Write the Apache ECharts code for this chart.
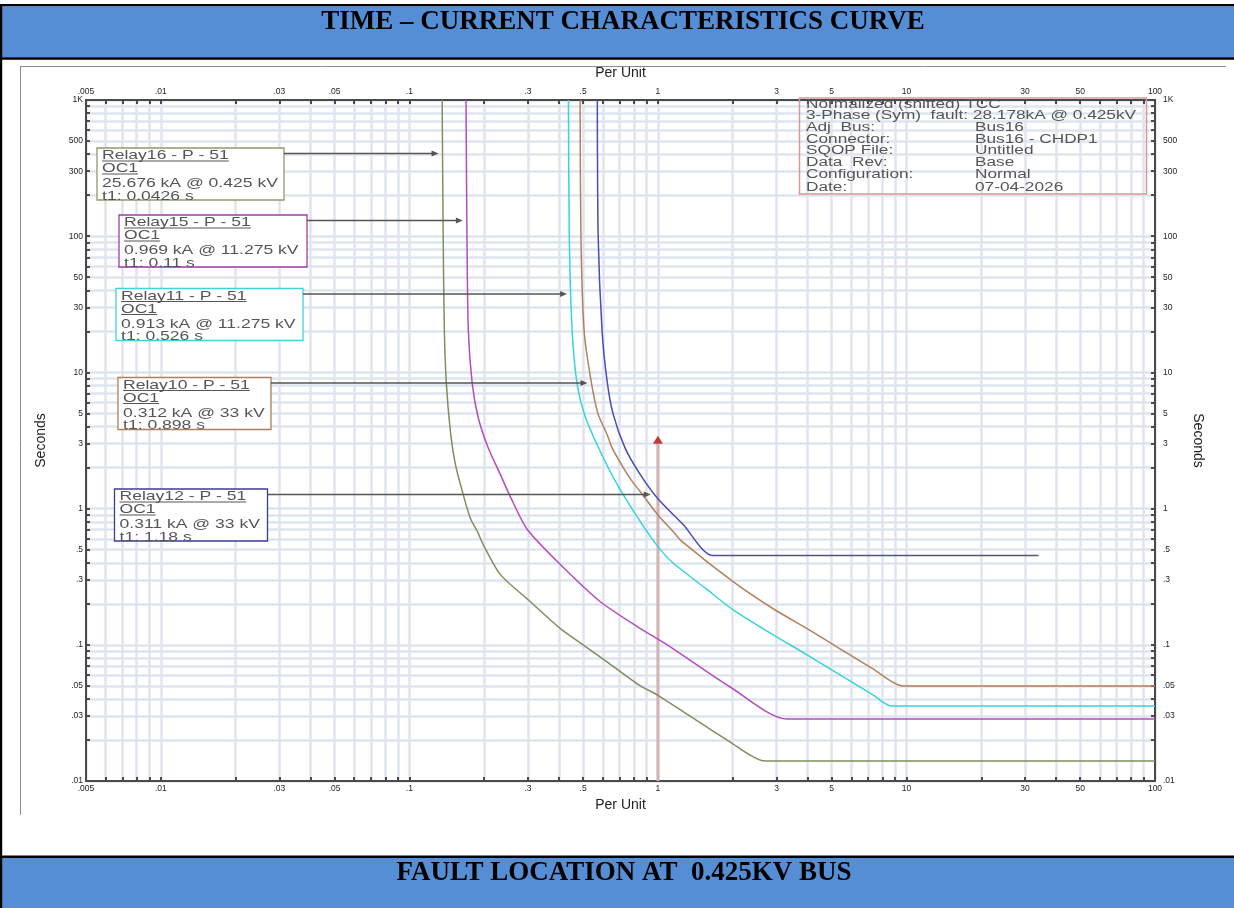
<!DOCTYPE html>
<html>
<head>
<meta charset="utf-8">
<title>Time – Current Characteristics Curve</title>
<script src="https://cdn.jsdelivr.net/npm/echarts@6/dist/echarts.min.js"></script>
<style>
  html, body { margin: 0; padding: 0; background: #ffffff; }
  #chart { width: 1234px; height: 908px; }
</style>
</head>
<body>
<div id="chart"></div>
<script>
// Relay operating curves: [current in per unit, operating time in seconds]
const relay16Curve = [[0.1355,1000],[0.1368,100],[0.1383,20.2],[0.1409,8.24],[0.1462,3.72],[0.1531,2.12],[0.1633,1.34],[0.1759,0.849],[0.1876,0.682],[0.198,0.547],[0.232,0.329],[0.306,0.208],[0.404,0.132],[0.5,0.1],[0.624,0.075],[0.847,0.0501],[1,0.0426],[1.947,0.0194],[2.7,0.014],[100,0.014]];
const relay15Curve = [[0.169,1000],[0.1705,100],[0.1727,20.2],[0.1791,8.24],[0.1894,4.63],[0.2077,2.79],[0.232,1.79],[0.2545,1.23],[0.2978,0.705],[0.404,0.39],[0.585,0.208],[0.847,0.132],[1,0.11],[1.149,0.0938],[1.947,0.0492],[3.31,0.0285],[100,0.0285]];
const relay11Curve = [[0.4365,1000],[0.44,100],[0.4518,20.2],[0.473,8.24],[0.509,4.79],[0.585,2.65],[0.6847,1.512],[0.847,0.808],[1,0.526],[1.149,0.4],[1.574,0.255],[2,0.1816],[2.898,0.1189],[3.968,0.0847],[5.383,0.0603],[7.306,0.043],[8.68,0.0356],[100,0.0356]];
const relay10Curve = [[0.4864,1000],[0.49,100],[0.5047,20.2],[0.5383,8.67],[0.5742,4.96],[0.6244,3.5],[0.654,2.79],[0.7236,2.02],[0.7867,1.591],[0.847,1.34],[1,0.898],[1.149,0.682],[1.249,0.575],[2,0.292],[2.898,0.1847],[3.968,0.132],[5.383,0.0938],[7.306,0.0668],[9.7,0.0498],[100,0.0498]];
const relay12Curve = [[0.5705,1000],[0.575,100],[0.5961,20.2],[0.6244,8.67],[0.6601,4.96],[0.7374,2.79],[0.847,1.79],[1,1.18],[1.261,0.767],[1.668,0.4525],[34,0.4525]];

// Fault current marker (per unit) and the span of its arrow (seconds)
const faultPu = 1;
const faultArrowSec = [0.01, 3.2];

// Axis ranges and labelled ticks
const xRangePu = [0.005, 100];
const yRangeSec = [0.01, 1000];
const xTickValues = [0.005, 0.01, 0.03, 0.05, 0.1, 0.3, 0.5, 1, 3, 5, 10, 30, 50, 100];
const xTickLabels = ['.005', '.01', '.03', '.05', '.1', '.3', '.5', '1', '3', '5', '10', '30', '50', '100'];
const yTickValues = [0.01, 0.03, 0.05, 0.1, 0.3, 0.5, 1, 3, 5, 10, 30, 50, 100, 300, 500, 1000];
const yTickLabels = ['.01', '.03', '.05', '.1', '.3', '.5', '1', '3', '5', '10', '30', '50', '100', '300', '500', '1K'];

// Relay annotation texts
const relay16Text = ['Relay16 - P - 51', 'OC1', '25.676 kA @ 0.425 kV', 't1: 0.0426 s'];
const relay15Text = ['Relay15 - P - 51', 'OC1', '0.969 kA @ 11.275 kV', 't1: 0.11 s'];
const relay11Text = ['Relay11 - P - 51', 'OC1', '0.913 kA @ 11.275 kV', 't1: 0.526 s'];
const relay10Text = ['Relay10 - P - 51', 'OC1', '0.312 kA @ 33 kV', 't1: 0.898 s'];
const relay12Text = ['Relay12 - P - 51', 'OC1', '0.311 kA @ 33 kV', 't1: 1.18 s'];

// Study information block
const infoHeader = ['Normalized (shifted) TCC', '3-Phase (Sym)  fault: 28.178kA @ 0.425kV'];
const infoKeys = ['Adj  Bus:', 'Connector:', 'SQOP File:', 'Data  Rev:', 'Configuration:', 'Date:'];
const infoValues = ['Bus16', 'Bus16 - CHDP1', 'Untitled', 'Base', 'Normal', '07-04-2026'];

const headerTitle = 'TIME \u2013 CURRENT CHARACTERISTICS CURVE';
const footerTitle = 'FAULT LOCATION AT  0.425KV BUS';

// ---------------------------------------------------------------------------
const L = Math.log10;
const FONT = '"Liberation Sans", Arial, Helvetica, sans-serif';
const SERIF = '"Liberation Serif", "Times New Roman", serif';

// Log grid: lines at 1..9 times every power of ten inside the range
function decadeSteps(lo, hi) {
  const out = [];
  for (let e = Math.floor(L(lo)) - 1; e <= Math.ceil(L(hi)); e++) {
    for (let m = 1; m <= 9; m++) {
      const v = m * Math.pow(10, e);
      if (v >= lo * 0.99999 && v <= hi * 1.00001) out.push(L(v));
    }
  }
  return out;
}
const xGrid = decadeSteps(xRangePu[0], xRangePu[1]);
const yGrid = decadeSteps(yRangeSec[0], yRangeSec[1]);

function labelFor(values, labels) {
  return function (v) {
    const i = values.findIndex(t => Math.abs(L(t) - v) < 1e-6);
    return i >= 0 ? labels[i] : '';
  };
}

const relays = [
  { name: 'Relay16', curve: relay16Curve, text: relay16Text, line: '#7f8f5c', frame: '#8d9a6d' },
  { name: 'Relay15', curve: relay15Curve, text: relay15Text, line: '#b34cbd', frame: '#a23aa8' },
  { name: 'Relay11', curve: relay11Curve, text: relay11Text, line: '#35d4de', frame: '#3fd3df' },
  { name: 'Relay10', curve: relay10Curve, text: relay10Text, line: '#b3805d', frame: '#b07f5a' },
  { name: 'Relay12', curve: relay12Curve, text: relay12Text, line: '#4b4bb0', frame: '#3b3b96' }
];

// Placement of the annotation boxes (px)
const boxLayout = [
  { x: 97, y: 148, w: 187 },
  { x: 119, y: 215, w: 188 },
  { x: 116, y: 288.5, w: 187 },
  { x: 118, y: 377.5, w: 153 },
  { x: 114.5, y: 489, w: 153 }
];

const axisColor = '#4a4a4a';
const gridColor = '#dfe5ee';

function xAxisCfg(position, nameGap, margin, split) {
  return {
    type: 'value', position: position,
    min: L(xRangePu[0]), max: L(xRangePu[1]),
    axisLine: { show: true, onZero: false, lineStyle: { color: axisColor, width: 2 } },
    axisTick: { show: true, inside: true, length: 4, customValues: xGrid, lineStyle: { color: axisColor, width: 2 } },
    axisLabel: { show: true, customValues: xTickValues.map(L), formatter: labelFor(xTickValues, xTickLabels),
                 fontSize: 8.5, color: '#222', margin: margin, fontFamily: FONT },
    splitLine: { show: split, lineStyle: { color: gridColor, width: 2.5 } },
    name: 'Per Unit', nameLocation: 'middle', nameGap: nameGap,
    nameTextStyle: { fontSize: 14, color: '#222', fontFamily: FONT }
  };
}
function yAxisCfg(position, nameGap, rotate, margin, split) {
  return {
    type: 'value', position: position,
    min: L(yRangeSec[0]), max: L(yRangeSec[1]),
    axisLine: { show: true, onZero: false, lineStyle: { color: axisColor, width: 2 } },
    axisTick: { show: true, inside: true, length: 4, customValues: yGrid, lineStyle: { color: axisColor, width: 2 } },
    axisLabel: { show: true, customValues: yTickValues.map(L), formatter: labelFor(yTickValues, yTickLabels),
                 fontSize: 8.5, color: '#222', margin: margin, fontFamily: FONT },
    splitLine: { show: split, lineStyle: { color: gridColor, width: 2.5 } },
    name: 'Seconds', nameLocation: 'middle', nameGap: nameGap, nameRotate: rotate,
    nameTextStyle: { fontSize: 14, color: '#222', fontFamily: FONT }
  };
}

const series = relays.map(r => ({
  name: r.name, type: 'line', xAxisIndex: 0, yAxisIndex: 0,
  data: r.curve.map(p => [L(p[0]), L(p[1])]),
  symbol: 'none', showSymbol: false, smooth: 0.25,
  lineStyle: { color: r.line, width: 1.5 }, itemStyle: { color: r.line },
  silent: true, z: 3
}));
series.push({
  name: 'Fault', type: 'line', xAxisIndex: 0, yAxisIndex: 0,
  data: [
    { value: [L(faultPu), L(faultArrowSec[0])], symbol: 'none' },
    { value: [L(faultPu), L(faultArrowSec[1])], symbol: 'triangle', symbolSize: [10, 8], itemStyle: { color: '#c23b3b' } }
  ],
  symbol: 'none', lineStyle: { color: '#d2b4b4', width: 3 }, silent: true, z: 2
});

const chart = echarts.init(document.getElementById('chart'), null, { renderer: 'canvas' });
chart.setOption({
  animation: false,
  backgroundColor: '#ffffff',
  grid: { left: 86, right: 79, top: 100, bottom: 127, containLabel: false },
  xAxis: [xAxisCfg('bottom', 16, 3, true), xAxisCfg('top', 20, 4, false)],
  yAxis: [yAxisCfg('left', 38, 90, 3, true), yAxisCfg('right', 36, -90, 8, false)],
  series: series
});

// ---- annotations drawn on top of the plot ----
const measureCtx = document.createElement('canvas').getContext('2d');
function textWidth(text, size) { measureCtx.font = size + 'px ' + FONT; return measureCtx.measureText(text).width; }

function rect(x, y, w, h, fill) { return { type: 'rect', shape: { x: x, y: y, width: w, height: h }, style: { fill: fill }, silent: true, z: 50 }; }
function seg(x1, y1, x2, y2, stroke, w) { return { type: 'line', shape: { x1: x1, y1: y1, x2: x2, y2: y2 }, style: { stroke: stroke, lineWidth: w }, silent: true, z: 60 }; }
function txt(x, y, text, size, scale, color) {
  return { type: 'text', x: x, y: y, scaleX: scale, silent: true, z: 70,
           style: { text: text, fill: color, fontSize: size, fontFamily: FONT, textAlign: 'left', textVerticalAlign: 'middle' } };
}

// current (log) where a curve reaches a given time (log)
function puAtTime(curveLog, lt) {
  for (let i = 0; i < curveLog.length - 1; i++) {
    const a = curveLog[i], b = curveLog[i + 1];
    if (lt <= a[1] && lt >= b[1] && a[1] !== b[1]) return a[0] + (b[0] - a[0]) * (a[1] - lt) / (a[1] - b[1]);
  }
  return curveLog[0][0];
}

const g = [];
// page bands and frame
g.push(rect(0, 4, 1234, 2.5, '#000'), rect(0, 6.5, 1234, 51, '#558ed5'), rect(0, 57.3, 1234, 2.5, '#000'));
g.push(rect(0, 855.5, 1234, 2.5, '#000'), rect(0, 858, 1234, 50, '#558ed5'));
g.push(rect(0, 4, 2.2, 904, '#000'));
g.push(seg(20, 66.5, 1226, 66.5, '#8c8c8c', 1), seg(20.5, 66, 20.5, 815, '#8c8c8c', 1));
g.push({ type: 'text', x: 623, y: 22.5, silent: true, z: 70,
  style: { text: headerTitle, fill: '#000', fontSize: 27, fontWeight: 'bold', fontFamily: SERIF, textAlign: 'center', textVerticalAlign: 'middle' } });
g.push({ type: 'text', x: 624, y: 873, silent: true, z: 70,
  style: { text: footerTitle, fill: '#000', fontSize: 27, fontWeight: 'bold', fontFamily: SERIF, textAlign: 'center', textVerticalAlign: 'middle' } });

// relay annotation boxes with leader arrows
const boxSize = 13.5, boxScale = 1.3, boxText = '#555';
const lineOffsets = [7.5, 20.5, 35.5, 48];
relays.forEach((r, i) => {
  const b = boxLayout[i];
  g.push({ type: 'rect', shape: { x: b.x, y: b.y, width: b.w, height: 52 },
           style: { fill: '#ffffff', stroke: r.frame, lineWidth: 1.3 }, silent: true, z: 55 });
  r.text.forEach((t, k) => {
    const ty = b.y + lineOffsets[k];
    g.push(txt(b.x + 5, ty, t, boxSize, boxScale, boxText));
    if (k < 2) {
      const w = textWidth(t, boxSize) * boxScale;
      g.push(seg(b.x + 5, ty + 5.5, b.x + 5 + w, ty + 5.5, boxText, 1));
    }
  });
  const ay = b.y + 5.5;
  const lt = chart.convertFromPixel({ gridIndex: 0 }, [200, ay])[1];
  const curveLog = r.curve.map(p => [L(p[0]), L(p[1])]);
  const tip = chart.convertToPixel({ gridIndex: 0 }, [puAtTime(curveLog, lt), lt])[0] - 4;
  g.push(seg(b.x + b.w, ay, tip - 5, ay, '#555', 1.5));
  g.push({ type: 'polygon', shape: { points: [[tip - 7, ay - 3], [tip, ay], [tip - 7, ay + 3]] },
           style: { fill: '#555' }, silent: true, z: 60 });
});

// study information block
g.push({ type: 'rect', shape: { x: 799.5, y: 98, width: 347, height: 96 },
         style: { fill: 'none', stroke: '#d49a9a', lineWidth: 1.5 }, silent: true, z: 55 });
const infoSize = 12.5, infoScale = 1.38, infoRows = [104.5, 116, 127.5, 139.3, 151, 163, 175, 187.3];
infoHeader.forEach((t, k) => g.push(txt(806, infoRows[k], t, infoSize, infoScale, boxText)));
infoKeys.forEach((t, k) => {
  g.push(txt(806, infoRows[k + 2], t, infoSize, infoScale, boxText));
  g.push(txt(975, infoRows[k + 2], infoValues[k], infoSize, infoScale, boxText));
});

chart.setOption({ graphic: { elements: g } });
</script>
</body>
</html>
